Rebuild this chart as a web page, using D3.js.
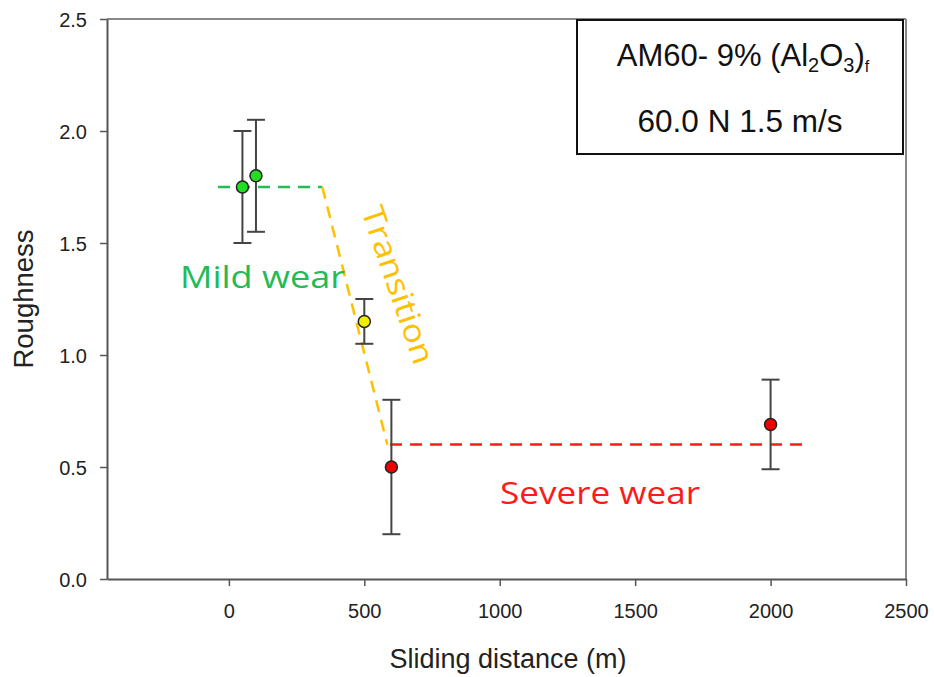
<!DOCTYPE html>
<html>
<head>
<meta charset="utf-8">
<script src="https://cdn.jsdelivr.net/npm/d3@7"></script>
<style>
html,body{margin:0;padding:0;background:#fff;}
svg{display:block;}
</style>
</head>
<body>
<svg id="chart" width="934" height="677"></svg>
<script>
// Data
const distance = [50, 100, 500, 600, 2000];
const roughness = [1.75, 1.8, 1.15, 0.5, 0.69];
const errLow = [1.5, 1.55, 1.05, 0.2, 0.49];
const errHigh = [2.0, 2.05, 1.25, 0.8, 0.89];
const pointColors = ["#22dd22", "#22dd22", "#f2ee00", "#ee0000", "#ee0000"];
const xTicks = [0, 500, 1000, 1500, 2000, 2500];
const yTicks = [0.0, 0.5, 1.0, 1.5, 2.0, 2.5];
const mildLine = [[-40, 1.75], [345, 1.75]];
const transitionLine = [[345, 1.75], [585, 0.6]];
const severeLine = [[595, 0.6], [2125, 0.6]];

(function () {
const svg = d3.select("#chart");
const pL = 107, pR = 906, pT = 19, pB = 579;
const x = d3.scaleLinear().domain([-450, 2500]).range([pL, pR]);
const y = d3.scaleLinear().domain([0, 2.5]).range([pB, pT]);
const sans = "Liberation Sans, Arial, sans-serif";

const axisColor = "#555";
// frame top & right
svg.append("line").attr("x1", pL).attr("x2", pR).attr("y1", pT).attr("y2", pT)
  .attr("stroke", "#888").attr("stroke-width", 2);
svg.append("line").attr("x1", pR).attr("x2", pR).attr("y1", pT).attr("y2", pB)
  .attr("stroke", "#888").attr("stroke-width", 2);

// axes
const xAxis = svg.append("g").attr("transform", `translate(0,${pB})`)
  .call(d3.axisBottom(x).tickValues(xTicks).tickFormat(d3.format("d")).tickSize(7).tickSizeOuter(0));
const yAxis = svg.append("g").attr("transform", `translate(${pL},0)`)
  .call(d3.axisLeft(y).tickValues(yTicks).tickFormat(d3.format(".1f")).tickSize(7).tickSizeOuter(0));
[xAxis, yAxis].forEach(g => {
  g.attr("font-size", 20).attr("font-family", sans);
  g.select(".domain").attr("stroke", axisColor).attr("stroke-width", 2);
  g.selectAll(".tick line").attr("stroke", axisColor).attr("stroke-width", 1.5);
  g.selectAll(".tick text").attr("fill", "#222").attr("font-size", 20).style("font-size", "20px").style("font-family", sans);
});
xAxis.selectAll(".tick text").attr("y", 39).attr("dy", 0);
yAxis.selectAll(".tick text").attr("x", -20).attr("dy", "0.35em");

// axis titles
svg.append("text").attr("x", 508).attr("y", 668).attr("text-anchor", "middle")
  .style("font-family", sans).style("font-size", "27px").attr("fill", "#222")
  .text("Sliding distance (m)");
svg.append("text").attr("transform", `translate(33,299) rotate(-90)`).attr("text-anchor", "middle")
  .style("font-family", sans).style("font-size", "27.5px").attr("fill", "#222")
  .text("Roughness");

// dashed regime lines
const line = d3.line().x(d => x(d[0])).y(d => y(d[1]));
svg.append("path").attr("d", line(mildLine)).attr("stroke", "#22bb55").attr("stroke-width", 2.5)
  .attr("fill", "none").attr("stroke-dasharray", "12,8");
svg.append("path").attr("d", line(transitionLine)).attr("stroke", "#ffc000").attr("stroke-width", 2.5)
  .attr("fill", "none").attr("stroke-dasharray", "12,8");
svg.append("path").attr("d", line(severeLine)).attr("stroke", "#ff1a1a").attr("stroke-width", 2.5)
  .attr("fill", "none").attr("stroke-dasharray", "12,8");

// error bars
const eb = svg.append("g");
distance.forEach((d, i) => {
  const cx = x(d);
  eb.append("line").attr("x1", cx).attr("x2", cx).attr("y1", y(errLow[i])).attr("y2", y(errHigh[i]))
    .attr("stroke", "#444").attr("stroke-width", 2);
  [errLow[i], errHigh[i]].forEach(v => {
    eb.append("line").attr("x1", cx - 9).attr("x2", cx + 9).attr("y1", y(v)).attr("y2", y(v))
      .attr("stroke", "#444").attr("stroke-width", 2);
  });
});

// points
svg.append("g").selectAll("circle").data(distance).join("circle")
  .attr("cx", d => x(d)).attr("cy", (d, i) => y(roughness[i])).attr("r", 6)
  .attr("fill", (d, i) => pointColors[i]).attr("stroke", "#222").attr("stroke-width", 1.5);

// annotations
const annFont = "Open Sans, Lato, sans-serif";
svg.append("text").attr("x", 180).attr("y", 288).attr("textLength", 165).attr("lengthAdjust", "spacingAndGlyphs")
  .style("font-family", annFont).style("font-size", "31px").attr("fill", "#22bb55").text("Mild wear");
svg.append("text").attr("x", 500).attr("y", 504).attr("textLength", 200).attr("lengthAdjust", "spacingAndGlyphs")
  .style("font-family", annFont).style("font-size", "31px").attr("fill", "#ff1a1a").text("Severe wear");
svg.append("text").attr("transform", "translate(398,285) rotate(71)").attr("text-anchor", "middle").attr("dy", "0.35em")
  .attr("textLength", 165).attr("lengthAdjust", "spacingAndGlyphs")
  .style("font-family", annFont).style("font-size", "31px").attr("fill", "#ffc000").text("Transition");

// legend box
svg.append("rect").attr("x", 577).attr("y", 20).attr("width", 326).attr("height", 134)
  .attr("fill", "#fff").attr("stroke", "#111").attr("stroke-width", 2);
const t1 = svg.append("text").attr("x", 743).attr("y", 66).attr("text-anchor", "middle")
  .style("font-family", sans).style("font-size", "31px").attr("fill", "#111");
t1.append("tspan").text("AM60- 9% (Al");
t1.append("tspan").attr("dy", 6).style("font-size", "20px").text("2");
t1.append("tspan").attr("dy", -6).text("O");
t1.append("tspan").attr("dy", 6).style("font-size", "20px").text("3");
t1.append("tspan").attr("dy", -6).text(")");
t1.append("tspan").attr("dy", 6).style("font-size", "16px").text("f");
svg.append("text").attr("x", 740).attr("y", 132).attr("text-anchor", "middle")
  .style("font-family", sans).style("font-size", "31.5px").attr("fill", "#111")
  .text("60.0 N 1.5 m/s");
})();
</script>
</body>
</html>
